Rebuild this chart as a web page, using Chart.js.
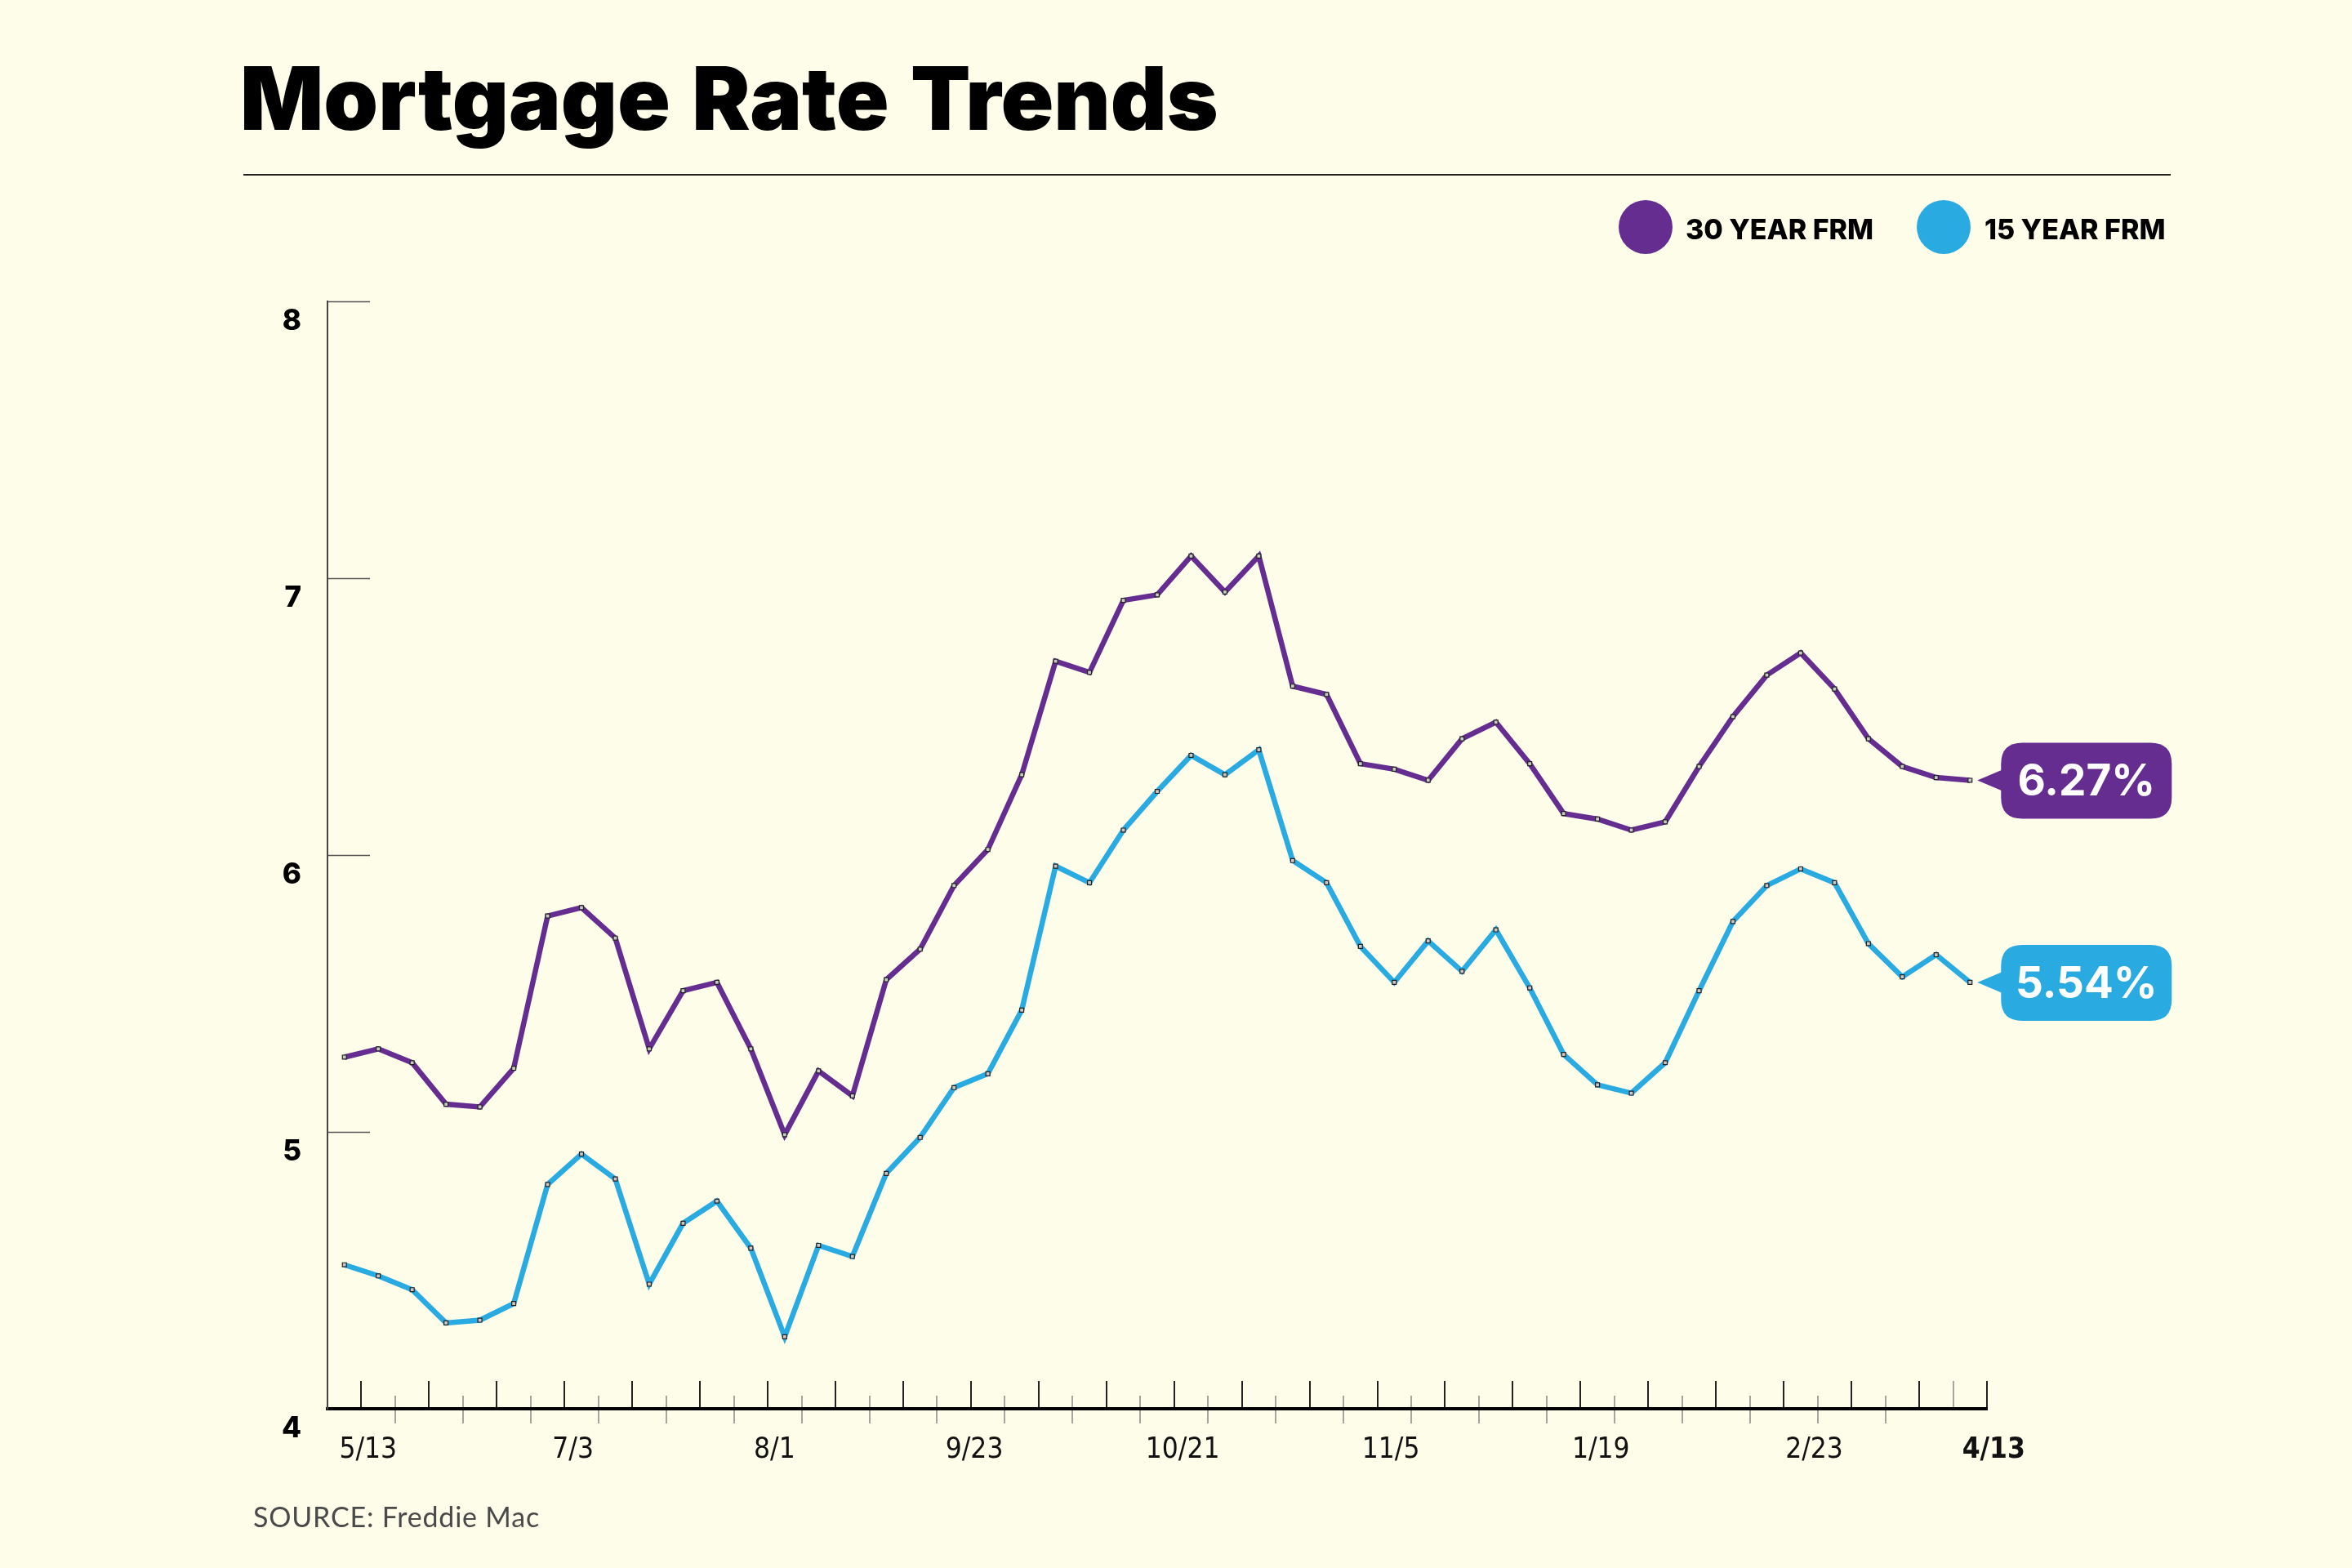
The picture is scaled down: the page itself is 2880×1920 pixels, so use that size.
<!DOCTYPE html>
<html>
<head>
<meta charset="utf-8">
<title>Mortgage Rate Trends</title>
<script src="https://cdn.jsdelivr.net/npm/chart.js@4.4.1/dist/chart.umd.min.js"></script>
<style>
  html, body { margin: 0; padding: 0; background: #FEFDEA; }
  #page { position: relative; width: 2880px; height: 1920px; overflow: hidden; }
  #wrap { position: absolute; left: 0; top: 0; width: 2880px; height: 1920px; }
  #title { position: absolute; left: 294px; top: 67px; font: 900 107px Inter, sans-serif; line-height: 1; color: #000; white-space: nowrap; word-spacing: 5px; }
  #rule { position: absolute; left: 298px; top: 213px; width: 2360px; height: 2px; background: #222; }
  .dot { position: absolute; top: 245px; width: 66px; height: 66px; border-radius: 50%; }
  .key { position: absolute; top: 264px; font: 800 34px Inter, sans-serif; line-height: 1; color: #000; white-space: nowrap; }
  #source { position: absolute; left: 310px; top: 1840px; font: 400 34px Lato, sans-serif; line-height: 1; color: #4a4a4a; white-space: nowrap; letter-spacing: 0.8px; }
</style>
</head>
<body>
<div id="page">
  <div id="wrap"><canvas id="rateChart"></canvas></div>
  <div id="title">Mortgage Rate Trends</div>
  <div id="rule"></div>
  <div class="dot" style="left:1982px;background:#652D90"></div>
  <div class="key" style="left:2064px">30 YEAR FRM</div>
  <div class="dot" style="left:2347px;background:#29ABE2"></div>
  <div class="key" style="left:2430px">15 YEAR FRM</div>
  <div id="source">SOURCE: Freddie Mac</div>
</div>
<script>
// weekly rates
const rate30 = [5.27, 5.30, 5.25, 5.10, 5.09, 5.23, 5.78, 5.81, 5.70, 5.30, 5.51, 5.54, 5.30, 4.99, 5.22, 5.13,
                5.55, 5.66, 5.89, 6.02, 6.29, 6.70, 6.66, 6.92, 6.94, 7.08, 6.95, 7.08, 6.61, 6.58, 6.33, 6.31,
                6.27, 6.42, 6.48, 6.33, 6.15, 6.13, 6.09, 6.12, 6.32, 6.50, 6.65, 6.73, 6.60, 6.42, 6.32, 6.28, 6.27];
const rate15 = [4.52, 4.48, 4.43, 4.31, 4.32, 4.38, 4.81, 4.92, 4.83, 4.45, 4.67, 4.75, 4.58, 4.26, 4.59, 4.55,
                4.85, 4.98, 5.16, 5.21, 5.44, 5.96, 5.90, 6.09, 6.23, 6.36, 6.29, 6.38, 5.98, 5.90, 5.67, 5.54,
                5.69, 5.58, 5.73, 5.52, 5.28, 5.17, 5.14, 5.25, 5.51, 5.76, 5.89, 5.95, 5.90, 5.68, 5.56, 5.64, 5.54];
const weeks = rate30.map((_, i) => i);

// date labels under the axis and the week they sit at
const tickLabels = ['5/13', '7/3', '8/1', '9/23', '10/21', '11/5', '1/19', '2/23', '4/13'];
const tickWeeks = [0.7, 6.75, 12.7, 18.6, 24.75, 30.9, 37.1, 43.4, 48.7];

const PURPLE = '#652D90';
const BLUE = '#29ABE2';
const NARROW = '"Liberation Sans Narrow", "DejaVu Sans Condensed", "Arial Narrow", sans-serif';

// alternating week marks along the bottom axis + short marks on the value axis
const axisMarks = {
  id: 'axisMarks',
  beforeDraw(chart) {
    const { ctx, chartArea: a, scales: { x, y } } = chart;
    ctx.save();
    ctx.lineCap = 'butt';
    y.ticks.forEach(t => {
      if (t.value === y.min) return;
      const py = Math.round(y.getPixelForValue(t.value)) + 0.5;
      ctx.strokeStyle = '#555';
      ctx.lineWidth = 1.5;
      ctx.beginPath();
      ctx.moveTo(a.left, py);
      ctx.lineTo(a.left + 52, py);
      ctx.stroke();
    });
    for (let k = 0; k < weeks.length; k++) {
      const px = Math.round(x.getPixelForValue(k + 0.5));
      ctx.beginPath();
      if (k % 2 === 0) {
        ctx.strokeStyle = '#222';
        ctx.lineWidth = 2;
        ctx.moveTo(px, a.bottom - 34);
        ctx.lineTo(px, a.bottom);
      } else if (k === weeks.length - 2) {
        ctx.strokeStyle = '#888';
        ctx.lineWidth = 1.5;
        ctx.moveTo(px, a.bottom - 34);
        ctx.lineTo(px, a.bottom);
      } else {
        ctx.strokeStyle = '#888';
        ctx.lineWidth = 1.5;
        ctx.moveTo(px, a.bottom - 16);
        ctx.lineTo(px, a.bottom + 18);
      }
      ctx.stroke();
    }
    ctx.restore();
  }
};

function roundBox(ctx, x, y, w, h, r) {
  ctx.beginPath();
  ctx.moveTo(x + r, y);
  ctx.lineTo(x + w - r, y);
  ctx.quadraticCurveTo(x + w, y, x + w, y + r);
  ctx.lineTo(x + w, y + h - r);
  ctx.quadraticCurveTo(x + w, y + h, x + w - r, y + h);
  ctx.lineTo(x + r, y + h);
  ctx.quadraticCurveTo(x, y + h, x, y + h - r);
  ctx.lineTo(x, y + r);
  ctx.quadraticCurveTo(x, y, x + r, y);
  ctx.closePath();
}

// callout bubbles with the latest value
const lastValue = {
  id: 'lastValue',
  afterDatasetsDraw(chart) {
    const { ctx } = chart;
    chart.data.datasets.forEach((ds, i) => {
      const meta = chart.getDatasetMeta(i);
      const pt = meta.data[meta.data.length - 1];
      const val = ds.data[ds.data.length - 1].y;
      const x = pt.x, y = pt.y;
      ctx.save();
      ctx.fillStyle = ds.borderColor;
      ctx.beginPath();
      ctx.moveTo(x + 9, y);
      ctx.lineTo(x + 42, y - 14);
      ctx.lineTo(x + 42, y + 14);
      ctx.closePath();
      ctx.fill();
      roundBox(ctx, x + 38, y - 46, 209, 93, 26);
      ctx.fill();
      ctx.fillStyle = '#fff';
      ctx.font = '700 53px Inter, sans-serif';
      ctx.textAlign = 'center';
      ctx.textBaseline = 'alphabetic';
      ctx.fillText(val.toFixed(2) + '%', x + 38 + 104.5, y + 19);
      ctx.restore();
    });
  }
};

const pointStyle = {
  pointStyle: 'rect',
  pointRadius: 3.5,
  pointHoverRadius: 3.5,
  pointBackgroundColor: '#c8c8c8',
  pointBorderColor: '#222',
  pointBorderWidth: 1.2,
  borderWidth: 6.5,
  tension: 0,
  fill: false
};

const ctx = document.getElementById('rateChart').getContext('2d');
new Chart(ctx, {
  type: 'line',
  data: {
    datasets: [
      { label: '30 YEAR FRM', data: weeks.map(i => ({ x: i, y: rate30[i] })), borderColor: PURPLE, ...pointStyle },
      { label: '15 YEAR FRM', data: weeks.map(i => ({ x: i, y: rate15[i] })), borderColor: BLUE, ...pointStyle }
    ]
  },
  options: {
    responsive: true,
    maintainAspectRatio: false,
    animation: false,
    layout: { padding: { left: 300, right: 447, top: 369, bottom: 95 } },
    plugins: { legend: { display: false }, tooltip: { enabled: false } },
    scales: {
      x: {
        type: 'linear',
        min: -0.5,
        max: 48.5,
        bounds: 'data',
        grid: { display: false, drawTicks: false },
        border: { display: true, color: '#000', width: 4 },
        afterBuildTicks: (s) => { s.ticks = tickWeeks.map(v => ({ value: v })); },
        afterFit: (s) => { s.height = 100; },
        ticks: {
          autoSkip: false,
          maxRotation: 0,
          minRotation: 0,
          padding: 30,
          color: '#111',
          font: (c) => ({ family: NARROW, size: 35, weight: c.index === tickLabels.length - 1 ? 'bold' : 'normal' }),
          callback: (value, index) => tickLabels[index]
        }
      },
      y: {
        min: 4,
        max: 8,
        grid: { display: false, drawTicks: false },
        border: { display: true, color: '#444', width: 2 },
        afterFit: (s) => { s.width = 101; },
        ticks: {
          stepSize: 1,
          padding: 32,
          labelOffset: 24,
          color: '#000',
          font: { family: 'Inter', size: 35, weight: '800' }
        }
      }
    }
  },
  plugins: [axisMarks, lastValue]
});
</script>
</body>
</html>
